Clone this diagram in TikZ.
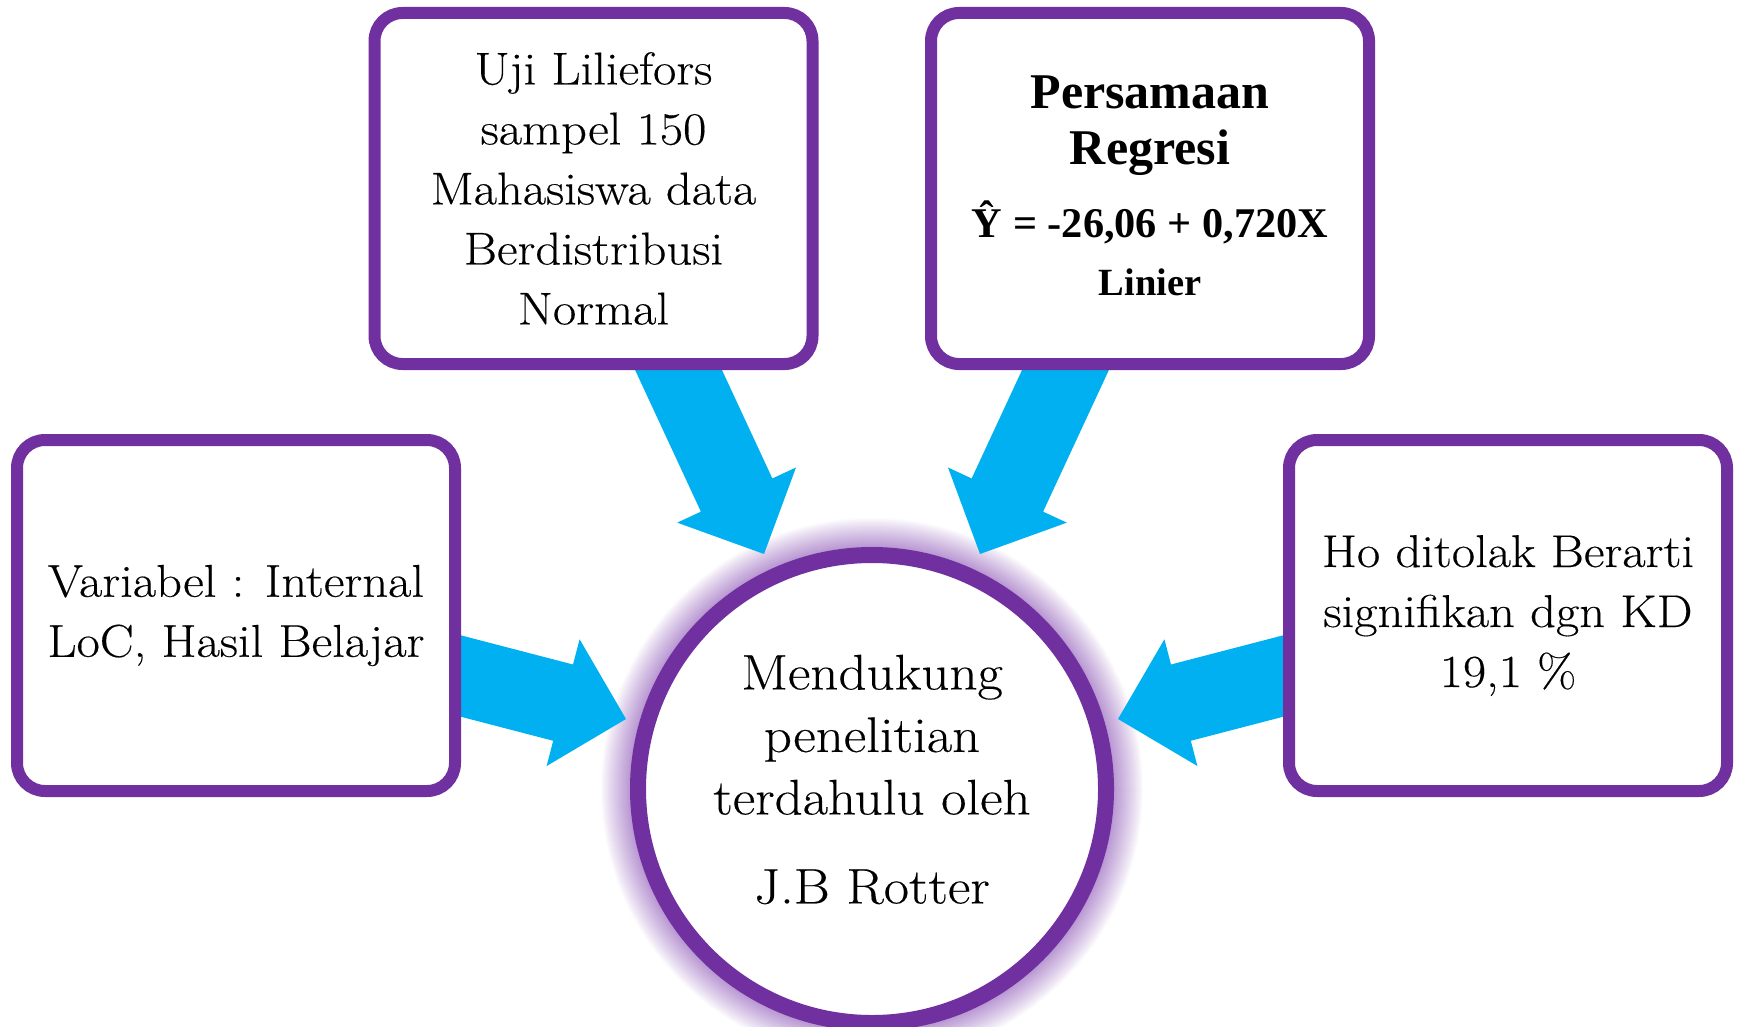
\documentclass[tikz,border=0pt]{standalone}
\usepackage{fontspec}
\setmainfont{Latin Modern Roman}[FakeStretch=1.1,FakeBold=0.3]
\newfontfamily\tnr{Liberation Serif}
\usetikzlibrary{calc}
\definecolor{boxpurple}{RGB}{112,48,160}
\definecolor{arrowblue}{RGB}{0,176,240}
\definecolor{glowpurple}{RGB}{184,150,210}
\tikzset{
  infobox/.style={draw=boxpurple, line width=12pt, fill=white, rounded corners=28pt,
    minimum width=438pt, minimum height=351pt, inner sep=0pt, align=center,
    font=\fontsize{46}{60}\selectfont},
  hubcircle/.style={circle, draw=boxpurple, line width=16pt, fill=white,
    minimum size=468pt, inner sep=0pt},
  hubtext/.style={align=center, inner sep=0pt, font=\fontsize{50}{62.5}\selectfont},
  boldline/.style={anchor=base, inner sep=0pt},
  blockfill/.style={fill=arrowblue},
}
\newcommand\blockarrow[2]{%
  \coordinate (#1-#2-h) at ($(#2)!65pt!(#1)$);
  \fill[blockfill] ($(#1)!39.4pt!90:(#2)$) -- ($(#1-#2-h)!39.4pt!90:(#2)$)
    -- ($(#1-#2-h)!65.5pt!90:(#2)$) -- (#2)
    -- ($(#1-#2-h)!65.5pt!-90:(#2)$) -- ($(#1-#2-h)!39.4pt!-90:(#2)$)
    -- ($(#1)!39.4pt!-90:(#2)$) -- cycle;
}
\begin{document}
\begin{tikzpicture}[x=1pt,y=-1pt]
\useasboundingbox (0,0) rectangle (1739,1027);
\fill[white] (0,0) rectangle (1739,1027);

% glow around the hub
\foreach \i in {0,...,30}{
  \pgfmathtruncatemacro\p{100*(\i/30)^0.9}
  \fill[glowpurple!\p!white] (872,789) circle[radius={272-\i}];
}

% arrow coordinates
\coordinate (a1s) at (664.6,340);
\coordinate (a1t) at (764,554);
\coordinate (a2s) at (1079.4,340);
\coordinate (a2t) at (980,554);
\coordinate (a3s) at (430,668);
\coordinate (a3t) at (626,719);
\coordinate (a4s) at (1314,668);
\coordinate (a4t) at (1118,719);

\blockarrow{a1s}{a1t}
\blockarrow{a2s}{a2t}
\blockarrow{a3s}{a3t}
\blockarrow{a4s}{a4t}

% boxes
\node[infobox] (uji) at (593.5,188.5) {Uji Liliefors\\sampel 150\\Mahasiswa data\\Berdistribusi\\Normal};
\node[infobox] (reg) at (1150,188.5) {};
\node[infobox] (var) at (236,615.5) {Variabel : Internal\\LoC, Hasil Belajar};
\node[infobox] (ho) at (1508,615.5) {Ho ditolak Berarti\\signifikan dgn KD\\19,1 \%};

% regression box text
\node[boldline, font=\tnr\bfseries\fontsize{50}{56}\selectfont] (r1) at (1150,109) {Persamaan};
\node[boldline, font=\tnr\bfseries\fontsize{50}{56}\selectfont] (r2) at (1150,165) {Regresi};
\node[boldline, font=\tnr\bfseries\fontsize{42.3}{50}\selectfont] (r3) at (1150,237) {Ŷ = -26,06 + 0,720X};
\node[boldline, font=\tnr\bfseries\fontsize{38.5}{46}\selectfont] (r4) at (1150,295) {Linier};

% hub
\node[hubcircle] (hub) at (872,789) {};
\node[hubtext] (hubtxt) at (872,779.5) {Mendukung\\penelitian\\terdahulu oleh\\[26.5pt]J.B Rotter};
\end{tikzpicture}
\end{document}
